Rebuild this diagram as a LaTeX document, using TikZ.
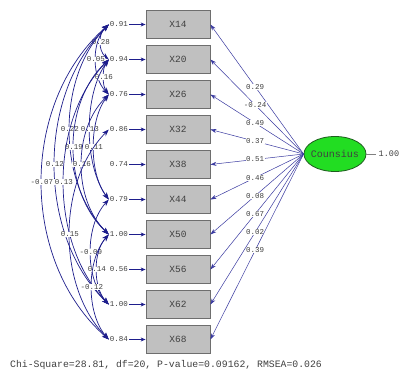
\documentclass[tikz,border=0pt]{standalone}
\usepackage{fontspec}
\setmonofont{Liberation Mono}
\usetikzlibrary{arrows.meta,shapes.geometric}
\definecolor{navy}{HTML}{1E1E8C}
\definecolor{loadc}{HTML}{3A3AA0}
\definecolor{boxfill}{HTML}{C0C0C0}
\definecolor{boxline}{HTML}{6E6E6E}
\definecolor{txt}{HTML}{404040}
\definecolor{lat}{HTML}{22DD22}
\definecolor{latline}{HTML}{1E5E1E}
\begin{document}
\begin{tikzpicture}[x=1pt,y=-1pt,
 obs/.style={draw=boxline, fill=boxfill, line width=0.8pt, minimum width=64pt, minimum height=28pt, inner sep=0pt, font=\ttfamily\fontsize{9.5}{10}\selectfont, text=txt},
 errlab/.style={font=\ttfamily\fontsize{7.5}{8}\selectfont, text=txt, inner sep=1pt},
 lab/.style={font=\ttfamily\fontsize{7.5}{8}\selectfont, text=txt, fill=white, inner sep=0.4pt},
 earr/.style={navy, line width=0.9pt, -{Stealth[length=5pt,width=4pt]}},
 load/.style={loadc, line width=0.5pt, -{Stealth[length=6pt,width=4pt]}},
 cov/.style={navy, line width=0.7pt, {Stealth[length=7pt,width=5pt]}-{Stealth[length=7pt,width=5pt]}},
]
\fill[white] (0,0) rectangle (400,372);
\useasboundingbox (0,0) rectangle (400,372);

\foreach \n/\y/\e in {14/24.5/0.91, 20/59.5/0.94, 26/94.5/0.76, 32/129.5/0.86, 38/164.5/0.74, 44/199.5/0.79, 50/234.5/1.00, 56/269.5/0.56, 62/304.5/1.00, 68/339.5/0.84}{
  \node[obs] (x\n) at (178,\y) {X\n};
  \node[errlab] (e\n) at (119,\y) {\e};
  \draw[earr] (e\n.east) -- (x\n.west);
}

\node[ellipse, draw=latline, fill=lat, line width=0.8pt, minimum width=62pt, minimum height=35pt, inner sep=0pt] (c) at (335,154) {};
\node[font=\ttfamily\fontsize{10}{11}\selectfont, text=black!75, inner sep=0pt] (clab) at (c) {Counsius};
\node[font=\ttfamily\fontsize{8.5}{10}\selectfont, text=txt, anchor=west, inner sep=0pt] (v) at (378.5,154) {1.00};
\draw[gray, line width=0.5pt, shorten >=3pt] (c.east) -- (v.west);

\foreach \n/\l in {14/0.29, 20/-0.24, 26/0.49, 32/0.37, 38/0.51, 44/0.46, 50/0.08, 56/0.67, 62/0.02, 68/0.39}
  \draw[load] (c.west) -- node[lab, pos=0.52] {\l} (x\n.east);

\foreach \a/\b/\dx/\d/\l in {
  14/20/-10.7/8.75/0.28,
  14/26/-17.3/17.5/0.05,
  20/26/-6.7/8.75/0.16,
  20/44/-25.3/35/0.13,
  14/50/-52/52.5/0.22,
  26/44/-20/26.25/0.11,
  20/50/-46.7/43.75/0.19,
  14/62/-72/70/0.12,
  26/50/-36/35/0.16,
  20/62/-60/61.25/0.13,
  14/68/-89.3/78.75/-0.07,
  32/68/-52/52.5/0.15,
  44/62/-24/26.25/-0.09,
  50/62/-16/17.5/0.14,
  50/68/-22.7/26.25/-0.12}
  \draw[cov] (e\a.west) .. controls +(\dx,\d) and +(\dx,-\d) .. (e\b.west) node[lab, pos=0.5] {\l};

\node[font=\ttfamily\fontsize{9.8}{10}\selectfont, text=txt, anchor=west, inner sep=0pt] (chi) at (10,365) {Chi-Square=28.81, df=20, P-value=0.09162, RMSEA=0.026};
\end{tikzpicture}
\end{document}
